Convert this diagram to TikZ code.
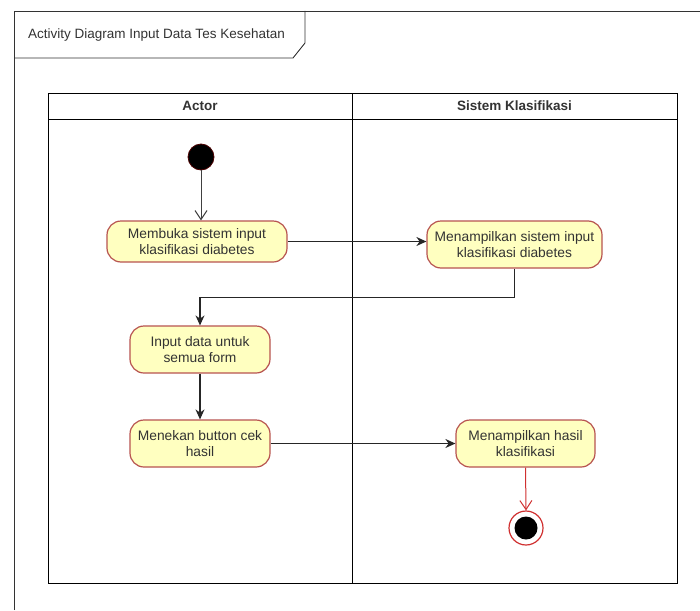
\documentclass[tikz,border=0pt]{standalone}
\usepackage{fontspec}
\setmainfont{Liberation Sans}
\usetikzlibrary{arrows.meta}
\definecolor{actfill}{HTML}{FFFFC0}
\definecolor{actstroke}{HTML}{B85450}
\definecolor{txt}{HTML}{333333}
\definecolor{endred}{HTML}{D03030}
\begin{document}
\begin{tikzpicture}[x=1pt,y=-1pt,
  act/.style={draw=actstroke, fill=actfill, rounded corners=14pt, line width=1.2pt,
    align=center, inner sep=0pt, font=\fontsize{13.8}{16.7}\selectfont, text=txt},
  flow/.style={draw=black!85, line width=1.1pt, -{Stealth[length=10pt,width=9pt]}},
  openflow/.style={draw=black!75, line width=1pt, -{Straight Barb[length=9pt,width=12pt]}},
  redflow/.style={draw=endred, line width=1pt, -{Straight Barb[length=9pt,width=12pt]}},
  frameline/.style={draw=black!80, line width=0.9pt},
  laneline/.style={draw=black, line width=1pt},
  head/.style={font=\fontsize{13.5}{16}\selectfont\bfseries, text=txt}]
\useasboundingbox (0,0) rectangle (700,610);
\fill[white] (0,0) rectangle (700,610);
% frame
\draw[frameline] (14,610) -- (14,11) -- (700,11);
\draw[frameline] (14,58) -- (293,58) -- (305,43) -- (305,11);
\node[font=\fontsize{13.5}{16}\selectfont, text=txt, anchor=west, inner sep=0pt] (title) at (28,35) {Activity Diagram Input Data Tes Kesehatan};
% swimlanes
\draw[laneline] (48,93) rectangle (677,583);
\draw[laneline] (48,119) -- (677,119);
\draw[laneline] (352,93) -- (352,583);
\node[head] (h1) at (200,106) {Actor};
\node[head] (h2) at (514.5,106) {Sistem Klasifikasi};
% nodes
\node[circle, fill=black, draw=black!70!red, line width=0.8pt, minimum size=26pt, inner sep=0pt] (start) at (201,157) {};
\node[act, minimum width=180pt, minimum height=41pt] (a) at (197,241.5) {Membuka sistem input\\klasifikasi diabetes};
\node[act, minimum width=175pt, minimum height=47pt] (b) at (514.5,244.5) {Menampilkan sistem input\\klasifikasi diabetes};
\node[act, minimum width=140pt, minimum height=47pt] (c) at (200,349.5) {Input data untuk\\semua form};
\node[act, minimum width=140pt, minimum height=47pt] (d) at (200,443.5) {Menekan button cek\\hasil};
\node[act, minimum width=139pt, minimum height=47pt] (e) at (525.5,443.5) {Menampilkan hasil\\klasifikasi};
\node[circle, draw=endred, fill=white, line width=1.2pt, minimum size=34pt, inner sep=0pt] (end) at (526,528) {};
\node[circle, fill=black, minimum size=23pt, inner sep=0pt] (endin) at (526,528) {};
% edges
\draw[openflow] (start.south) -- (start.south |- a.north);
\draw[flow] (a.east) -- (a.east -| b.west);
\draw[flow] (b.south) -- ++(0,29) -| (c.north);
\draw[flow] (c) -- (d);
\draw[flow] (d.east) -- (e.west);
\draw[redflow] (e.south) -- (end.north);
\end{tikzpicture}
\end{document}
